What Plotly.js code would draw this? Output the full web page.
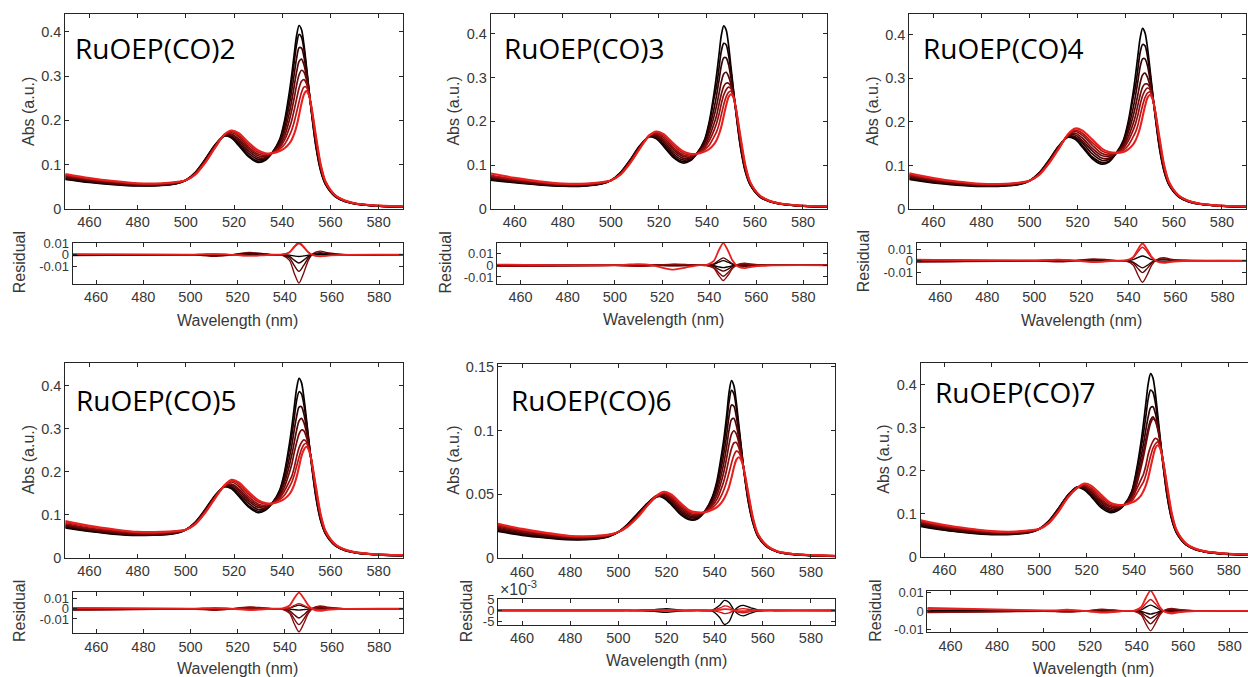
<!DOCTYPE html>
<html><head><meta charset="utf-8">
<script src="https://cdn.plot.ly/plotly-3.0.1.min.js"></script>
<style>html,body{margin:0;padding:0;background:#fff}#chart{width:1248px;height:677px}</style>
</head><body><div id="chart"></div>
<script>
// ---------------- DATA ----------------
const wavelength = [450,460,470,480,490,496,500,504,508,512,516,519,522,526,530,533,536,539,541,543,544,545,546,547,548,549,550,551,552,554,556,558,562,566,570,576,582,590];
const residualWavelength = [450,500,505,510,515,520,525,530,535,539,542,544,546,548,550,552,555,558,565,590];
const xTicks = [460,480,500,520,540,560,580];
const panelNames = ['RuOEP(CO)2','RuOEP(CO)3','RuOEP(CO)4','RuOEP(CO)5','RuOEP(CO)6','RuOEP(CO)7'];

const absCO2 = [
 [.067,.060,.055,.052,.053,.057,.065,.083,.112,.144,.165,.160,.143,.118,.105,.110,.128,.158,.200,.265,.305,.350,.392,.414,.405,.372,.325,.275,.225,.140,.085,.055,.028,.017,.012,.008,.006,.005],
 [.068,.061,.056,.053,.054,.057,.065,.083,.111,.143,.165,.162,.146,.121,.108,.112,.128,.155,.194,.253,.290,.332,.372,.394,.388,.361,.319,.273,.226,.143,.087,.056,.028,.017,.012,.008,.006,.005],
 [.070,.062,.057,.054,.054,.058,.065,.082,.110,.142,.166,.164,.150,.126,.112,.114,.128,.151,.184,.236,.268,.305,.341,.364,.363,.344,.310,.271,.228,.146,.089,.057,.029,.018,.012,.008,.006,.005],
 [.072,.064,.058,.054,.055,.059,.065,.081,.109,.141,.166,.167,.154,.131,.116,.116,.127,.147,.175,.218,.246,.278,.310,.333,.338,.326,.301,.268,.229,.150,.091,.058,.029,.018,.012,.008,.006,.005],
 [.074,.065,.059,.055,.056,.059,.065,.080,.108,.140,.167,.169,.158,.136,.120,.119,.127,.143,.165,.201,.224,.251,.280,.303,.313,.309,.293,.266,.231,.154,.093,.059,.030,.018,.013,.009,.007,.006],
 [.075,.067,.061,.056,.057,.060,.065,.080,.106,.139,.167,.172,.163,.140,.124,.121,.127,.139,.156,.183,.201,.224,.249,.273,.288,.292,.284,.263,.232,.158,.096,.060,.030,.018,.013,.009,.007,.006],
 [.077,.068,.062,.057,.057,.060,.065,.079,.105,.138,.168,.175,.167,.145,.128,.124,.126,.135,.146,.166,.179,.197,.219,.242,.263,.275,.275,.261,.234,.161,.098,.061,.031,.019,.013,.009,.007,.006],
 [.079,.070,.063,.058,.058,.061,.065,.078,.104,.137,.168,.177,.171,.150,.132,.126,.126,.131,.137,.148,.157,.170,.188,.212,.238,.258,.266,.258,.235,.165,.100,.062,.031,.019,.013,.009,.007,.006]
];
const absCO3 = [
 [.066,.060,.055,.052,.053,.057,.065,.083,.112,.144,.165,.160,.143,.118,.105,.110,.128,.158,.200,.265,.305,.350,.396,.418,.409,.375,.325,.275,.225,.140,.085,.055,.028,.017,.012,.008,.006,.005],
 [.068,.061,.056,.053,.054,.057,.065,.083,.111,.143,.165,.162,.146,.121,.108,.112,.128,.155,.194,.253,.280,.320,.360,.378,.375,.352,.315,.272,.226,.143,.087,.056,.028,.017,.012,.008,.006,.005],
 [.070,.062,.057,.054,.054,.058,.065,.082,.110,.142,.166,.164,.150,.126,.112,.114,.128,.151,.184,.230,.258,.292,.327,.345,.345,.330,.300,.268,.228,.146,.089,.057,.029,.018,.012,.008,.006,.005],
 [.072,.064,.058,.054,.055,.059,.065,.081,.109,.141,.166,.167,.154,.131,.116,.116,.127,.147,.175,.212,.235,.262,.290,.308,.312,.303,.285,.262,.229,.150,.091,.058,.029,.018,.012,.008,.006,.005],
 [.074,.065,.059,.055,.056,.059,.065,.080,.108,.140,.167,.169,.158,.136,.120,.119,.127,.143,.165,.195,.213,.238,.262,.280,.287,.287,.280,.260,.231,.154,.093,.059,.030,.018,.013,.009,.007,.006],
 [.075,.067,.061,.056,.057,.060,.065,.080,.106,.139,.167,.172,.163,.140,.124,.121,.127,.139,.156,.180,.195,.215,.240,.260,.272,.278,.275,.258,.232,.158,.096,.060,.030,.018,.013,.009,.007,.006],
 [.077,.068,.062,.057,.057,.060,.065,.079,.105,.138,.168,.175,.167,.145,.128,.124,.126,.135,.146,.165,.176,.192,.215,.238,.256,.266,.269,.258,.234,.161,.098,.061,.031,.019,.013,.009,.007,.006],
 [.081,.071,.063,.058,.058,.061,.065,.078,.104,.137,.168,.177,.171,.150,.132,.126,.126,.131,.137,.148,.157,.170,.188,.212,.236,.255,.262,.255,.232,.165,.100,.062,.031,.019,.013,.009,.007,.006]
];
const absCO4 = [
 [.068,.060,.055,.052,.053,.057,.065,.083,.112,.144,.165,.160,.142,.116,.103,.108,.128,.158,.200,.265,.305,.350,.393,.415,.405,.372,.325,.275,.225,.140,.085,.055,.028,.017,.012,.008,.006,.005],
 [.070,.061,.056,.053,.054,.057,.065,.083,.111,.143,.166,.163,.146,.120,.107,.110,.128,.155,.194,.253,.280,.320,.360,.378,.375,.352,.315,.272,.226,.143,.087,.056,.028,.017,.012,.008,.006,.005],
 [.072,.062,.057,.054,.054,.058,.065,.082,.110,.142,.167,.166,.152,.127,.112,.114,.128,.151,.184,.230,.258,.292,.327,.345,.345,.330,.300,.268,.228,.146,.089,.057,.029,.018,.012,.008,.006,.005],
 [.074,.064,.058,.054,.055,.059,.065,.081,.109,.141,.168,.170,.157,.134,.117,.117,.128,.147,.175,.212,.235,.262,.290,.308,.312,.303,.285,.262,.229,.150,.091,.058,.029,.018,.012,.008,.006,.005],
 [.076,.066,.059,.055,.056,.059,.065,.080,.108,.140,.169,.174,.163,.140,.123,.121,.129,.143,.165,.195,.213,.238,.262,.280,.287,.287,.280,.260,.231,.154,.093,.059,.030,.018,.013,.009,.007,.006],
 [.078,.068,.061,.056,.057,.060,.065,.080,.106,.139,.170,.178,.169,.147,.128,.124,.129,.139,.156,.180,.195,.215,.240,.260,.272,.278,.275,.258,.232,.158,.096,.060,.030,.018,.013,.009,.007,.006],
 [.080,.069,.062,.057,.057,.060,.065,.079,.105,.138,.171,.181,.174,.153,.134,.128,.129,.135,.146,.165,.176,.192,.215,.238,.256,.266,.269,.258,.234,.161,.098,.061,.031,.019,.013,.009,.007,.006],
 [.082,.071,.063,.058,.058,.061,.065,.078,.104,.137,.172,.185,.180,.160,.139,.131,.129,.131,.137,.148,.157,.170,.188,.212,.236,.255,.262,.255,.232,.165,.100,.062,.031,.019,.013,.009,.007,.006]
];
const absCO5 = [
 [.069,.061,.055,.052,.053,.057,.065,.083,.112,.144,.165,.160,.143,.118,.105,.110,.128,.158,.200,.265,.305,.350,.394,.417,.407,.372,.325,.275,.225,.140,.085,.055,.028,.017,.012,.008,.006,.005],
 [.071,.062,.056,.053,.054,.057,.065,.083,.111,.143,.165,.162,.146,.121,.108,.112,.128,.155,.194,.253,.285,.325,.366,.386,.381,.356,.317,.273,.226,.143,.087,.056,.028,.017,.012,.008,.006,.005],
 [.073,.064,.057,.054,.054,.058,.065,.082,.110,.142,.166,.165,.151,.127,.112,.114,.128,.151,.184,.233,.262,.297,.329,.350,.351,.334,.305,.270,.228,.146,.089,.057,.029,.018,.012,.008,.006,.005],
 [.075,.065,.058,.054,.055,.059,.065,.081,.109,.141,.166,.168,.156,.132,.117,.116,.127,.147,.175,.215,.240,.268,.297,.318,.324,.314,.293,.265,.229,.150,.091,.058,.029,.018,.012,.008,.006,.005],
 [.077,.067,.060,.055,.056,.059,.065,.080,.108,.140,.167,.171,.160,.137,.121,.119,.127,.143,.165,.198,.218,.245,.268,.288,.297,.295,.281,.260,.231,.154,.093,.059,.030,.018,.013,.009,.007,.006],
 [.079,.069,.062,.057,.057,.060,.065,.080,.106,.139,.167,.176,.166,.142,.125,.122,.127,.139,.156,.178,.190,.210,.235,.256,.268,.274,.270,.255,.231,.158,.096,.060,.030,.018,.013,.009,.007,.006],
 [.082,.072,.064,.059,.058,.061,.065,.079,.105,.138,.168,.179,.171,.148,.130,.125,.126,.135,.146,.165,.176,.192,.213,.234,.252,.263,.266,.254,.232,.161,.098,.061,.031,.019,.013,.009,.007,.006],
 [.085,.074,.066,.060,.060,.062,.065,.078,.104,.137,.168,.181,.175,.153,.134,.127,.126,.131,.137,.148,.157,.170,.188,.212,.236,.251,.258,.251,.230,.165,.100,.062,.031,.019,.013,.009,.007,.006]
];
const absCO6 = [
 [.021,.018,.016,.0145,.015,.017,.0205,.027,.035,.043,.049,.047,.042,.034,.030,.031,.037,.048,.061,.083,.096,.112,.130,.139,.135,.122,.105,.088,.071,.044,.027,.017,.0085,.005,.0035,.0025,.002,.0015],
 [.0216,.0185,.0164,.0148,.0153,.0172,.0205,.0268,.0347,.0428,.0481,.0475,.0428,.0349,.0307,.0315,.0369,.047,.0589,.0791,.0911,.1059,.1226,.1314,.1286,.1175,.1024,.0869,.071,.0447,.0274,.0172,.0086,.0051,.0036,.0026,.0021,.0016],
 [.0225,.0193,.017,.0153,.0156,.0174,.0205,.0265,.0343,.0425,.0483,.0483,.044,.0363,.0318,.0323,.0368,.0455,.0558,.0733,.0838,.0968,.1115,.12,.119,.1108,.0985,.0853,.071,.0458,.028,.0175,.0088,.0051,.0036,.0026,.0021,.0016],
 [.0234,.020,.0176,.0157,.016,.0176,.0205,.0262,.0338,.0422,.0484,.049,.0452,.0376,.0328,.033,.0366,.044,.0526,.0674,.0764,.0876,.1004,.1086,.1094,.104,.0946,.0836,.071,.0468,.0286,.0178,.0089,.0052,.0037,.0027,.0022,.0017],
 [.0243,.0208,.0182,.0162,.0164,.0178,.0205,.0259,.0334,.0419,.0486,.0498,.0464,.039,.0339,.0338,.0365,.0425,.0495,.0616,.0691,.0785,.0893,.0972,.0998,.0973,.0907,.082,.071,.0479,.0292,.0181,.009,.0053,.0038,.0028,.0023,.0018],
 [.0252,.0215,.0188,.0166,.0168,.0181,.0205,.0256,.0329,.0416,.0487,.0505,.0476,.0403,.0349,.0345,.0363,.041,.0463,.0557,.0617,.0693,.0782,.0858,.0902,.0905,.0868,.0803,.071,.0489,.0298,.0184,.0092,.0054,.0039,.0029,.0024,.0019],
 [.0261,.0223,.0194,.0171,.0171,.0183,.0205,.0253,.0325,.0413,.0489,.0513,.0488,.0417,.036,.0353,.0362,.0395,.0432,.0499,.0544,.0602,.0671,.0744,.0806,.0838,.0829,.0787,.071,.05,.0304,.0187,.0094,.0054,.0039,.0029,.0024,.0019],
 [.027,.023,.020,.0175,.0175,.0185,.0205,.025,.032,.041,.049,.052,.050,.043,.037,.036,.036,.038,.040,.044,.047,.051,.056,.063,.071,.077,.079,.077,.071,.051,.031,.019,.0095,.0055,.004,.003,.0025,.002]
];
const absCO7 = [
 [.071,.062,.056,.052,.053,.057,.065,.083,.112,.143,.162,.156,.140,.115,.103,.107,.122,.152,.200,.268,.310,.356,.402,.425,.415,.380,.330,.278,.226,.140,.085,.055,.028,.017,.012,.008,.006,.005],
 [.073,.063,.057,.053,.054,.057,.065,.083,.111,.142,.162,.158,.143,.119,.106,.109,.122,.149,.194,.253,.287,.326,.367,.387,.382,.358,.318,.273,.226,.143,.087,.056,.028,.017,.012,.008,.006,.005],
 [.075,.065,.058,.054,.054,.058,.065,.082,.110,.142,.162,.160,.146,.123,.109,.111,.122,.145,.184,.233,.262,.295,.325,.346,.348,.333,.305,.270,.228,.146,.089,.057,.029,.018,.012,.008,.006,.005],
 [.077,.067,.059,.055,.055,.059,.065,.081,.109,.141,.161,.162,.149,.127,.112,.113,.122,.141,.175,.218,.243,.272,.298,.318,.325,.316,.296,.267,.229,.150,.091,.058,.029,.018,.012,.008,.006,.005],
 [.079,.069,.061,.056,.056,.059,.065,.080,.108,.140,.161,.164,.152,.131,.116,.115,.121,.137,.165,.208,.232,.260,.288,.310,.320,.316,.300,.272,.232,.154,.093,.059,.030,.018,.013,.009,.007,.006],
 [.081,.071,.063,.057,.057,.060,.065,.080,.106,.139,.161,.166,.156,.135,.119,.117,.121,.133,.156,.180,.192,.212,.238,.256,.268,.275,.272,.258,.232,.158,.096,.060,.030,.018,.013,.009,.007,.006],
 [.083,.072,.065,.059,.058,.061,.065,.079,.105,.138,.160,.168,.160,.140,.123,.119,.121,.129,.146,.165,.174,.190,.212,.234,.252,.262,.267,.255,.233,.161,.098,.061,.031,.019,.013,.009,.007,.006],
 [.085,.074,.066,.060,.059,.062,.065,.078,.104,.137,.160,.170,.165,.145,.126,.121,.121,.126,.132,.143,.153,.166,.184,.208,.232,.252,.259,.252,.230,.165,.100,.062,.031,.019,.013,.009,.007,.006]
];

const resCO2 = [
 [-.0008,-.0002,-.0007,-.0014,-.0007,.0007,.0019,.0012,0,-.0005,-.0048,-.0156,-.024,-.0156,-.0048,.001,.0031,.0017,.0002,0],
 [-.0005,-.0001,-.0004,-.0008,-.0004,.0004,.0011,.0007,0,-.0003,-.0028,-.0091,-.014,-.0091,-.0028,.0006,.0018,.001,.0001,0],
 [-.0003,0,-.0002,-.0004,-.0002,.0002,.0006,.0004,0,-.0001,-.0014,-.0046,-.007,-.0046,-.0014,.0003,.0009,.0005,.0001,0],
 [0,0,0,-.0001,0,0,.0001,.0001,0,0,-.0003,-.001,-.0015,-.001,-.0003,.0001,.0002,.0001,0,0],
 [.0003,0,.0003,.0006,.0003,-.0003,-.0008,-.0005,0,.0002,.0019,.0062,.0095,.0062,.0019,-.0004,-.0012,-.0007,-.0001,0],
 [.0005,.0001,.0003,.0006,.0003,-.0003,-.0008,-.0005,0,.0002,.0021,.0068,.0105,.0068,.0021,-.0004,-.0014,-.0007,-.0001,0]
];
const resCO3 = [
 [-.0004,0,-.0001,-.0001,-.0001,.0001,.0002,.0001,0,0,-.0004,-.0013,-.002,-.0013,-.0004,.0001,.0003,.0001,0,0],
 [.0002,0,.0001,.0002,.0001,-.0001,-.0003,-.0002,0,.0001,.0008,.0026,.004,.0026,.0008,-.0002,-.0005,-.0003,0,0],
 [.0004,0,.0002,.0004,.0002,-.0002,-.0005,-.0003,0,.0001,.0013,.0041,.0063,.0041,.0013,-.0003,-.0008,-.0004,-.0001,0],
 [-.0006,-.0001,-.0002,-.0003,-.0002,.0002,.0004,.0003,0,-.0001,-.001,-.0033,-.005,-.0033,-.001,.0002,.0007,.0004,.0001,0],
 [-.0008,-.0001,-.0003,-.0006,-.0003,.0003,.0008,.0005,0,-.0002,-.0019,-.0061,-.0094,-.0061,-.0019,.0004,.0012,.0007,.0001,0],
 [-.001,-.0002,-.0004,-.0008,-.0004,.0004,.001,.0007,0,-.0003,-.0026,-.0085,-.013,-.0085,-.0026,.0005,.0017,.0009,.0001,0],
 [.0006,.0001,.0006,.001,.0004,-.002,-.0037,-.002,0,.0004,.0038,.0124,.019,.0124,.0038,-.0008,-.0025,-.0013,-.0002,0]
];
const resCO4 = [
 [.0003,0,.0001,.0002,.0001,-.0001,-.0003,-.0002,0,.0001,.0008,.0026,.004,.0026,.0008,-.0002,-.0005,-.0003,0,0],
 [-.0006,-.0001,-.0002,-.0004,-.0002,.0002,.0005,.0003,0,-.0001,-.0013,-.0042,-.0064,-.0042,-.0013,.0003,.0008,.0004,.0001,0],
 [-.0009,-.0002,-.0003,-.0006,-.0003,.0003,.0008,.0005,0,-.0002,-.0021,-.0068,-.0105,-.0068,-.0021,.0004,.0014,.0007,.0001,0],
 [-.0012,-.0003,-.0006,-.0011,-.0006,.0006,.0015,.001,0,-.0004,-.0038,-.0124,-.019,-.0124,-.0038,.0008,.0025,.0013,.0002,0],
 [.0006,.0001,.0004,.0007,.0004,-.0004,-.0009,-.0006,0,.0002,.0023,.0076,.0117,.0076,.0023,-.0005,-.0015,-.0008,-.0001,0],
 [.0009,.0002,.0005,.0009,.0005,-.0005,-.0012,-.0008,0,.0003,.003,.0098,.015,.0098,.003,-.0006,-.002,-.0011,-.0002,0]
];
const resCO5 = [
 [.0002,0,.0001,.0002,.0001,-.0001,-.0003,-.0002,0,.0001,.0007,.0023,.0035,.0023,.0007,-.0001,-.0005,-.0002,0,0],
 [-.0004,-.0001,0,-.0001,0,0,.0001,.0001,0,0,-.0003,-.0008,-.0013,-.0008,-.0003,.0001,.0002,.0001,0,0],
 [-.0008,-.0002,-.0003,-.0005,-.0003,.0003,.0007,.0005,0,-.0002,-.0018,-.0059,-.009,-.0059,-.0018,.0004,.0012,.0006,.0001,0],
 [-.0011,-.0002,-.0005,-.0009,-.0005,.0005,.0012,.0008,0,-.0003,-.0031,-.0101,-.0155,-.0101,-.0031,.0006,.002,.0011,.0002,0],
 [-.0014,-.0003,-.0007,-.0014,-.0007,.0007,.0018,.0011,0,-.0005,-.0045,-.0146,-.0225,-.0146,-.0045,.0009,.0029,.0016,.0002,0],
 [.0005,.0001,.0002,.0003,.0002,-.0002,-.0004,-.0003,0,.0001,.001,.0033,.005,.0033,.001,-.0002,-.0007,-.0004,-.0001,0],
 [.0009,.0002,.0005,.0009,.0005,-.0005,-.0013,-.0008,0,.0003,.0032,.0103,.0158,.0103,.0032,-.0006,-.0021,-.0011,-.0002,0]
];
const resCO6 = [
 [0,0,0,.0002,.0004,.0008,.0003,0,0,.0002,.0022,.0045,.0036,.0002,-.0018,-.0024,-.0012,-.0003,0,0],
 [0,0,0,-.0002,-.0004,-.0008,-.0003,0,0,-.0003,-.003,-.0062,-.005,-.0003,.0017,.0023,.0012,.0003,0,0],
 [0,0,0,.0001,.0002,.0003,.0001,0,0,.0001,.001,.002,.0016,0,-.0008,-.001,-.0005,-.0001,0,0],
 [0,0,0,-.0001,-.0001,-.0002,-.0001,0,0,-.0001,-.0007,-.0014,-.0011,0,.0006,.0008,.0004,.0001,0,0],
 [.0002,.0001,0,0,0,.0001,0,0,0,0,.0003,.0006,.0005,0,-.0003,-.0003,-.0001,0,0,0]
];
const resCO7 = [
 [.0004,.0001,.0001,.0002,.0001,-.0001,-.0003,-.0002,0,.0001,.0006,.0021,.0032,.0021,.0006,-.0001,-.0004,-.0002,0,0],
 [-.0003,0,-.0001,-.0001,-.0001,.0001,.0001,.0001,0,0,-.0003,-.0011,-.0017,-.0011,-.0003,.0001,.0002,.0001,0,0],
 [-.0005,-.0001,-.0001,-.0002,-.0001,.0001,.0003,.0002,0,-.0001,-.0008,-.0026,-.004,-.0026,-.0008,.0002,.0005,.0003,0,0],
 [-.0007,-.0001,-.0002,-.0004,-.0002,.0002,.0006,.0004,0,-.0001,-.0014,-.0046,-.007,-.0046,-.0014,.0003,.0009,.0006,.0001,0],
 [-.0009,-.0002,-.0003,-.0006,-.0003,.0003,.0009,.0005,0,-.0002,-.0022,-.007,-.0108,-.007,-.0022,.0004,.0014,.0008,.0001,0],
 [.0012,.0002,.0002,.0004,.0002,-.0002,-.0005,-.0003,0,.0001,.0012,.004,.0062,.004,.0012,-.0002,-.0008,-.0004,-.0001,0],
 [.0016,.0003,.0003,.0007,.0003,-.0003,-.0009,-.0006,0,.0002,.0022,.0072,.011,.0072,.0022,-.0004,-.0014,-.0008,-.0001,0]
];

// ---------------- STYLE / LAYOUT ----------------
const W = 1248, H = 677;
const AX = '#262626', TXT = '#383838';
const FONT = 'Liberation Sans, Arial, Helvetica, sans-serif';
const mainColors = ['#000000','#1c0000','#360303','#520606','#6e0909','#8e0d0d','#b81414','#e8201e'];
const resColors = [
 ['#7a0a0a','#4a0202','#2a0000','#000000','#c81414','#e8201e'],
 ['#000000','#000000','#5a0404','#4a0202','#7a0a0a','#8a0c0c','#e8201e'],
 ['#000000','#3a0202','#5a0404','#7a0a0a','#d01818','#e8201e'],
 ['#000000','#2a0000','#5a0404','#7a0a0a','#8a0c0c','#d01818','#e8201e'],
 ['#000000','#000000','#d01818','#c81414','#e8201e'],
 ['#000000','#2a0000','#4a0202','#6a0606','#8a0c0c','#d01818','#e8201e']
];
const absSets = [absCO2, absCO3, absCO4, absCO5, absCO6, absCO7];
const resSets = [resCO2, resCO3, resCO4, resCO5, resCO6, resCO7];

// pixel boxes [left,right,top,bottom]
const panels = [
 {main:[65.3,402.7,14,209],   res:[72.5,402.7,242.7,284],  mx:[450,590],   rx:[450,590],   my:[0,.44],  ry:[-.0248,.0102], mirror:'ticks',
  absT:[28.5,111.5], resT:[19.7,262.5], wlT:[237.8,320], name:[73.3,48]},
 {main:[490.7,827,14,209],    res:[497,827,242.7,284],     mx:[450,590],   rx:[450,590],   my:[0,.445], ry:[-.016,.0193],  mirror:'ticks',
  absT:[453.3,111.3], resT:[445,262.5], wlT:[663.2,319.3], name:[501.7,48]},
 {main:[909.3,1246,14,209],   res:[916.7,1246,242.7,284],  mx:[450,590],   rx:[450,590],   my:[0,.448], ry:[-.0205,.0157], mirror:'ticks',
  absT:[871.7,111], resT:[863.3,261], wlT:[1081.7,320], name:[921,48]},
 {main:[65.3,402.7,363.3,557.7], res:[72.7,402.7,591.7,633.3], mx:[450,590], rx:[450,590], my:[0,.452], ry:[-.024,.0167], mirror:'ticks',
  absT:[28.3,460], resT:[19.7,611.3], wlT:[237.8,668.3], name:[74,400]},
 {main:[498,835,364,558.3],   res:[498,835,599.3,625],     mx:[450,590],   rx:[450,590],   my:[0,.152], ry:[-.0065,.005],  mirror:'ticks',
  absT:[452.7,460], resT:[466.3,611], wlT:[666.8,660], name:[509.3,400]},
 {main:[920.7,1248,363.3,557], res:[927.3,1248,590.7,632.3], mx:[450,588.1], rx:[450,587.9], my:[0,.449], ry:[-.0116,.011], mirror:false,
  absT:[882.7,459], resT:[876,610.8], wlT:[1093.3,668.3], name:[932.7,391.7]}
];

const dx = (a,b) => [a/W, Math.min(1,b/W)];
const dy = (t,b) => [1-b/H, 1-t/H];

const traces = [];
const layout = {
  width: W, height: H, margin:{l:0,r:0,t:0,b:0},
  paper_bgcolor:'#ffffff', plot_bgcolor:'#ffffff',
  showlegend:false, hovermode:false,
  font:{family:FONT, color:TXT, size:14},
  annotations:[]
};

function xAxis(box, range, anchor){
  return {domain: dx(box[0],box[1]), range: range, anchor: anchor,
    tickmode:'array', tickvals:xTicks, ticks:'inside', ticklen:4, tickwidth:1, tickcolor:AX,
    showline:true, linecolor:AX, linewidth:1, mirror:'ticks',
    showgrid:false, zeroline:false, fixedrange:true,
    tickfont:{family:FONT, size:14.5, color:TXT}};
}
function yAxis(box, range, anchor, mirror, fs){
  return {domain: dy(box[2],box[3]), range: range, anchor: anchor,
    ticks:'inside', ticklen:4, tickwidth:1, tickcolor:AX,
    showline:true, linecolor:AX, linewidth:1, mirror:mirror,
    showgrid:false, zeroline:false, fixedrange:true,
    tickfont:{family:FONT, size:fs, color:TXT}};
}
function ann(text, px, py, opts){
  return Object.assign({text:text, xref:'paper', yref:'paper', x:px/W, y:1-py/H,
    xanchor:'center', yanchor:'middle', showarrow:false,
    font:{family:FONT, size:16, color:TXT}}, opts||{});
}

panels.forEach((p, i) => {
  const n1 = 2*i+1, n2 = 2*i+2;
  const xm = n1===1 ? 'x' : 'x'+n1, ym = n1===1 ? 'y' : 'y'+n1;
  const xr = 'x'+n2, yr = 'y'+n2;
  const keyXm = n1===1 ? 'xaxis' : 'xaxis'+n1, keyYm = n1===1 ? 'yaxis' : 'yaxis'+n1;

  layout[keyXm] = xAxis(p.main, p.mx, ym);
  const yam = yAxis(p.main, p.my, xm, p.mirror, 14.5);
  if (i === 4) { yam.tickmode='array'; yam.tickvals=[0,0.05,0.1,0.15]; yam.ticktext=['0','0.05','0.1','0.15']; }
  else { yam.tickmode='array'; yam.tickvals=[0,0.1,0.2,0.3,0.4]; yam.ticktext=['0','0.1','0.2','0.3','0.4']; }
  layout[keyYm] = yam;

  layout['xaxis'+n2] = xAxis(p.res, p.rx, yr);
  const yar = yAxis(p.res, p.ry, xr, p.mirror, 13);
  yar.tickmode='array';
  if (i === 4) { yar.tickvals=[-0.005,0,0.005]; yar.ticktext=['-5','0','5']; }
  else { yar.tickvals=[-0.01,0,0.01]; yar.ticktext=['-0.01','0','0.01']; }
  layout['yaxis'+n2] = yar;

  absSets[i].forEach((row, k) => {
    traces.push({type:'scatter', mode:'lines', x:wavelength, y:row, xaxis:xm, yaxis:ym,
      line:{color:mainColors[k], width: k===7 ? 2.1 : 1.7, shape:'spline', smoothing:0.8}});
  });
  resSets[i].forEach((row, k) => {
    const c = resColors[i][k];
    traces.push({type:'scatter', mode:'lines', x:residualWavelength, y:row, xaxis:xr, yaxis:yr,
      line:{color:c, width: (c==='#e8201e') ? 1.8 : 1.35, shape:'spline', smoothing:0.8}});
  });

  layout.annotations.push(ann('Abs (a.u.)', p.absT[0], p.absT[1], {textangle:-90}));
  layout.annotations.push(ann('Residual', p.resT[0], p.resT[1], {textangle:-90}));
  layout.annotations.push(ann('Wavelength (nm)', p.wlT[0], p.wlT[1]));
  layout.annotations.push(ann(panelNames[i], p.name[0], p.name[1],
    {xanchor:'left', font:{family:'Open Sans, Noto Sans, sans-serif', size:28, color:'#000000'}}));
});
layout.annotations.push(ann('×10<sup>-3</sup>', 498, 588, {xanchor:'left', font:{family:FONT, size:16, color:TXT}}));

Plotly.newPlot('chart', traces, layout, {staticPlot:true, displayModeBar:false});
</script>
</body></html>
